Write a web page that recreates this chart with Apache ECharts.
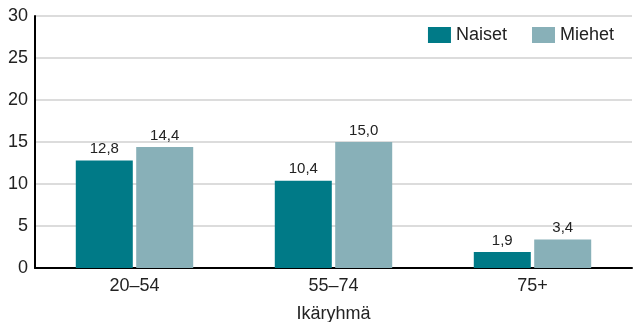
<!DOCTYPE html>
<html><head><meta charset="utf-8">
<script src="https://cdn.jsdelivr.net/npm/echarts@6/dist/echarts.min.js"></script>
<style>html,body{margin:0;padding:0;background:#fff}#c{width:633px;height:322px}</style>
</head><body><div id="c"></div>
<script>
const categories = ['20–54', '55–74', '75+'];
const naiset = [12.8, 10.4, 1.9];
const miehet = [14.4, 15.0, 3.4];
const yTicks = [0, 5, 10, 15, 20, 25, 30];

const font = '"Liberation Sans", Arial, sans-serif';
const chart = echarts.init(document.getElementById('c'), null, {renderer: 'canvas'});
const fmt = p => p.value.toFixed(1).replace('.', ',');
chart.setOption({
  animation: false,
  textStyle: {fontFamily: font},
  grid: {left: 35, right: 1, top: 16, bottom: 54, containLabel: false, outerBoundsMode: 'none'},
  legend: {
    right: 14, top: 21, itemWidth: 23, itemHeight: 16, itemGap: 25,
    icon: 'rect',
    textStyle: {fontSize: 18, color: '#222', fontFamily: font},
    data: ['Naiset', 'Miehet']
  },
  xAxis: {
    type: 'category', data: categories,
    name: 'Ikäryhmä', nameLocation: 'middle', nameGap: 37,
    nameTextStyle: {fontSize: 18, color: '#222', fontFamily: font},
    axisLine: {lineStyle: {color: '#000', width: 2}},
    axisTick: {show: false},
    axisLabel: {fontSize: 18, color: '#222', margin: 9, fontFamily: font}
  },
  yAxis: {
    type: 'value', min: yTicks[0], max: yTicks[yTicks.length - 1], interval: 5,
    axisLine: {show: true, lineStyle: {color: '#000', width: 2}},
    axisTick: {show: false},
    axisLabel: {fontSize: 18, color: '#222', margin: 7, fontFamily: font},
    splitLine: {lineStyle: {color: '#d0d0d0', width: 1.5}}
  },
  series: [
    {name: 'Naiset', type: 'bar', data: naiset, barWidth: 57, barGap: '6%',
     itemStyle: {color: '#007a87'},
     label: {show: true, position: 'top', distance: 4, fontSize: 15, color: '#222', fontFamily: font, formatter: fmt}},
    {name: 'Miehet', type: 'bar', data: miehet, barWidth: 57,
     itemStyle: {color: '#88b0b8'},
     label: {show: true, position: 'top', distance: 4, fontSize: 15, color: '#222', fontFamily: font, formatter: fmt}}
  ]
});
</script></body></html>
